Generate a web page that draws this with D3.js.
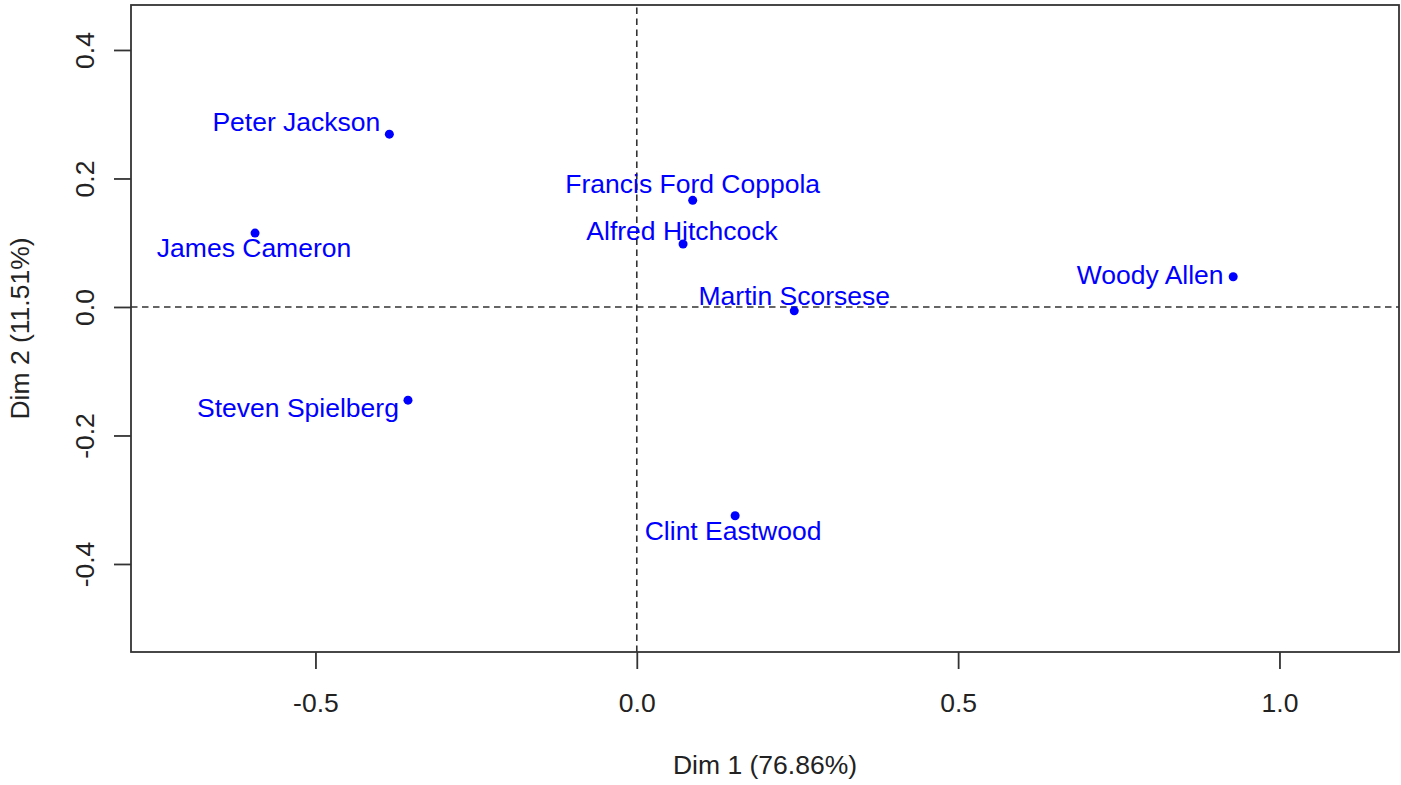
<!DOCTYPE html>
<html>
<head>
<meta charset="utf-8">
<script src="https://cdn.jsdelivr.net/npm/d3@7"></script>
<style>
  body { margin: 0; background: #fff; }
  svg { display: block; font-family: "Liberation Sans", Arial, sans-serif; }
</style>
</head>
<body>
<script>
// individuals on the first two dimensions
const names = ["Peter Jackson", "James Cameron", "Steven Spielberg", "Francis Ford Coppola",
  "Alfred Hitchcock", "Martin Scorsese", "Woody Allen", "Clint Eastwood"];
const dim1 = [-0.385, -0.594, -0.356, 0.087, 0.072, 0.245, 0.928, 0.153];
const dim2 = [0.269, 0.115, -0.145, 0.166, 0.098, -0.006, 0.047, -0.325];

const xTicks = [-0.5, 0.0, 0.5, 1.0];
const yTicks = [-0.4, -0.2, 0.0, 0.2, 0.4];
const xTitle = "Dim 1 (76.86%)";
const yTitle = "Dim 2 (11.51%)";

// label placement relative to each point (pixels, baseline), as drawn by the repel step
const labelNudge = [
  [-93, -3], [-1, 24], [-110, 17], [0, -7],
  [-1, -4], [0, -6], [-83, 7], [-2, 24]
];

const width = 1401, height = 785;
const margin = {top: 5, right: 2, bottom: 133, left: 131};
const fontSize = 26.5;

// R prints a plain hyphen for negatives
const fmt = d => d.toFixed(1);

const x = d3.scaleLinear()
    .domain([-0.787, 1.186])
    .range([margin.left, width - margin.right]);
const y = d3.scaleLinear()
    .domain([-0.537, 0.470])
    .range([height - margin.bottom, margin.top]);

const svg = d3.select("body").append("svg")
    .attr("width", width)
    .attr("height", height);

// reference lines through the origin
svg.append("g")
    .attr("stroke", "#333")
    .attr("stroke-width", 1.6)
    .attr("stroke-dasharray", "6.5,4.5")
  .call(g => g.append("line")
      .attr("x1", x.range()[0]).attr("x2", x.range()[1])
      .attr("y1", y(0)).attr("y2", y(0)))
  .call(g => g.append("line")
      .attr("x1", x(0)).attr("x2", x(0))
      .attr("y1", y.range()[0]).attr("y2", y.range()[1]));

// axes, R style: ticks outside, labels centred
const xAxis = svg.append("g")
    .attr("transform", `translate(0,${y.range()[0]})`)
    .call(d3.axisBottom(x).tickValues(xTicks).tickFormat(fmt)
      .tickSize(17).tickSizeOuter(0))
    .call(g => g.select(".domain").remove());
xAxis.selectAll(".tick line").attr("stroke", "#333").attr("stroke-width", 1.8);
xAxis.selectAll(".tick text")
    .attr("fill", "#222")
    .attr("font-size", fontSize)
    .attr("font-family", "Liberation Sans, Arial, sans-serif")
    .attr("dy", null)
    .attr("y", 712 - y.range()[0]);

const yAxis = svg.append("g")
    .attr("transform", `translate(${x.range()[0]},0)`)
    .call(d3.axisLeft(y).tickValues(yTicks).tickFormat(fmt)
      .tickSize(17).tickSizeOuter(0))
    .call(g => g.select(".domain").remove());
yAxis.selectAll(".tick line").attr("stroke", "#333").attr("stroke-width", 1.8);
yAxis.selectAll(".tick text")
    .attr("fill", "#222")
    .attr("font-size", fontSize)
    .attr("font-family", "Liberation Sans, Arial, sans-serif")
    .attr("x", null).attr("dy", null)
    .attr("text-anchor", "middle")
    .attr("transform", `translate(${93.5 - x.range()[0]},0) rotate(-90)`);

// plot frame
svg.append("rect")
    .attr("x", x.range()[0])
    .attr("y", y.range()[1])
    .attr("width", x.range()[1] - x.range()[0])
    .attr("height", y.range()[0] - y.range()[1])
    .attr("fill", "none")
    .attr("stroke", "#333")
    .attr("stroke-width", 1.8);

// axis titles
svg.append("text")
    .attr("x", (x.range()[0] + x.range()[1]) / 2)
    .attr("y", 774)
    .attr("text-anchor", "middle")
    .attr("font-size", fontSize)
    .attr("fill", "#222")
    .text(xTitle);

svg.append("text")
    .attr("transform", `translate(28.5,${(y.range()[0] + y.range()[1]) / 2}) rotate(-90)`)
    .attr("text-anchor", "middle")
    .attr("font-size", fontSize)
    .attr("fill", "#222")
    .text(yTitle);

// points and labels
const rows = names.map((name, i) => ({name, d1: dim1[i], d2: dim2[i], nudge: labelNudge[i]}));

svg.append("g")
    .attr("fill", "#0000ff")
  .selectAll("circle")
  .data(rows)
  .join("circle")
    .attr("cx", d => x(d.d1))
    .attr("cy", d => y(d.d2))
    .attr("r", 4.5);

svg.append("g")
    .attr("fill", "#0000ff")
    .attr("font-size", fontSize)
    .attr("text-anchor", "middle")
  .selectAll("text")
  .data(rows)
  .join("text")
    .attr("x", d => x(d.d1) + d.nudge[0])
    .attr("y", d => y(d.d2) + d.nudge[1])
    .text(d => d.name);
</script>
</body>
</html>
